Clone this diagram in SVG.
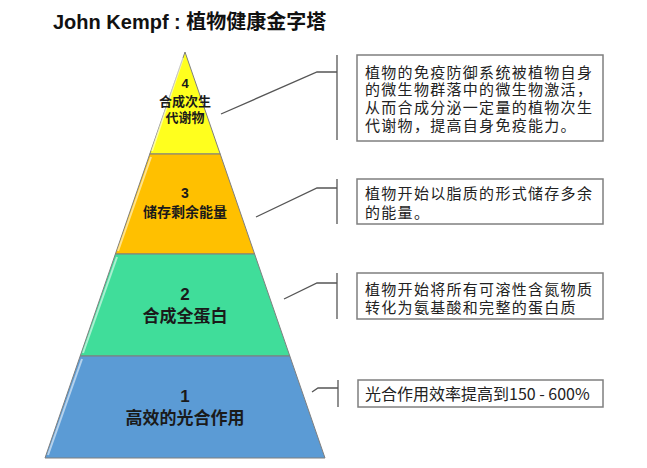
<svg xmlns="http://www.w3.org/2000/svg" width="647" height="468" viewBox="0 0 647 468">
<style>
.title{font-family:"Liberation Sans","Noto Sans CJK SC",sans-serif;font-size:20px;font-weight:bold;fill:#111}
.layer{stroke:#7f7f7f;stroke-width:1}
.hl{fill:none;stroke:#ffffff;stroke-opacity:0.55;stroke-width:2}
.lt{font-family:"Liberation Sans","Noto Sans CJK SC",sans-serif;font-weight:bold;fill:#1a1a1a;text-anchor:middle}
.box{fill:#fff;stroke:#7f7f7f;stroke-width:1.5}
.bt{font-family:"Noto Sans CJK SC",sans-serif;font-size:15px;letter-spacing:1.3px;fill:#222}
.bt1{font-family:"Noto Sans CJK SC",sans-serif;font-size:16px;fill:#222}
.ln{fill:none;stroke:#555;stroke-width:1.3}
</style>
<rect width="647" height="468" fill="#fff"/>
<text class="title" x="53" y="29">John Kempf : 植物健康金字塔</text>

<g id="layer4">
<polygon class="layer" points="185,52 220.2,154 149.8,154" fill="#FFFF1E"/>
<line class="hl" x1="183" y1="58" x2="152" y2="151"/>
<text class="lt" x="185" y="88" font-size="13">4</text>
<text class="lt" x="185" y="106" font-size="13">合成次生</text>
<text class="lt" x="185" y="122" font-size="13">代谢物</text>
</g>
<g id="layer3">
<polygon class="layer" points="149.8,154 220.2,154 254.6,254 115.4,254" fill="#FFC000"/>
<line class="hl" x1="151" y1="157" x2="118" y2="251"/>
<text class="lt" x="185" y="198" font-size="14">3</text>
<text class="lt" x="185" y="217" font-size="14">储存剩余能量</text>
</g>
<g id="layer2">
<polygon class="layer" points="115.4,254 254.6,254 289.8,356 80.2,356" fill="#40DD9A"/>
<line class="hl" x1="117" y1="257" x2="83" y2="353"/>
<text class="lt" x="185" y="300" font-size="17">2</text>
<text class="lt" x="185" y="322" font-size="17">合成全蛋白</text>
</g>
<g id="layer1">
<polygon class="layer" points="80.2,356 289.8,356 325,458 45,458" fill="#5B9BD5"/>
<line class="hl" x1="82" y1="359" x2="48" y2="455"/>
<text class="lt" x="185" y="402" font-size="17">1</text>
<text class="lt" x="185" y="424" font-size="17">高效的光合作用</text>
</g>

<g id="connectors">
<polyline class="ln" points="221,114 317,72 337,72"/>
<line class="ln" x1="337" y1="55" x2="337" y2="140"/>
<polyline class="ln" points="256,217 317,188 337,188"/>
<line class="ln" x1="337" y1="179" x2="337" y2="224"/>
<polyline class="ln" points="284,299 317,283 337,283"/>
<line class="ln" x1="337" y1="273" x2="337" y2="319"/>
<polyline class="ln" points="312,392 318,388 338,388"/>
<line class="ln" x1="338" y1="380" x2="338" y2="407"/>
</g>

<g id="note4">
<rect class="box" x="357" y="55" width="246" height="86"/>
<text class="bt" x="365" y="77.5">植物的免疫防御系统被植物自身</text>
<text class="bt" x="365" y="95">的微生物群落中的微生物激活，</text>
<text class="bt" x="365" y="112.5">从而合成分泌一定量的植物次生</text>
<text class="bt" x="365" y="130.5">代谢物，提高自身免疫能力。</text>
</g>
<g id="note3">
<rect class="box" x="357" y="179" width="246" height="45"/>
<text class="bt" x="365" y="198.5">植物开始以脂质的形式储存多余</text>
<text class="bt" x="365" y="217.5">的能量。</text>
</g>
<g id="note2">
<rect class="box" x="357" y="273" width="246" height="46"/>
<text class="bt" x="365" y="294.5">植物开始将所有可溶性含氮物质</text>
<text class="bt" x="365" y="312.5">转化为氨基酸和完整的蛋白质</text>
</g>
<g id="note1">
<rect class="box" x="358" y="380" width="245" height="27"/>
<text class="bt1" x="365" y="399.5">光合作用效率提高到150 - 600%</text>
</g>
</svg>
